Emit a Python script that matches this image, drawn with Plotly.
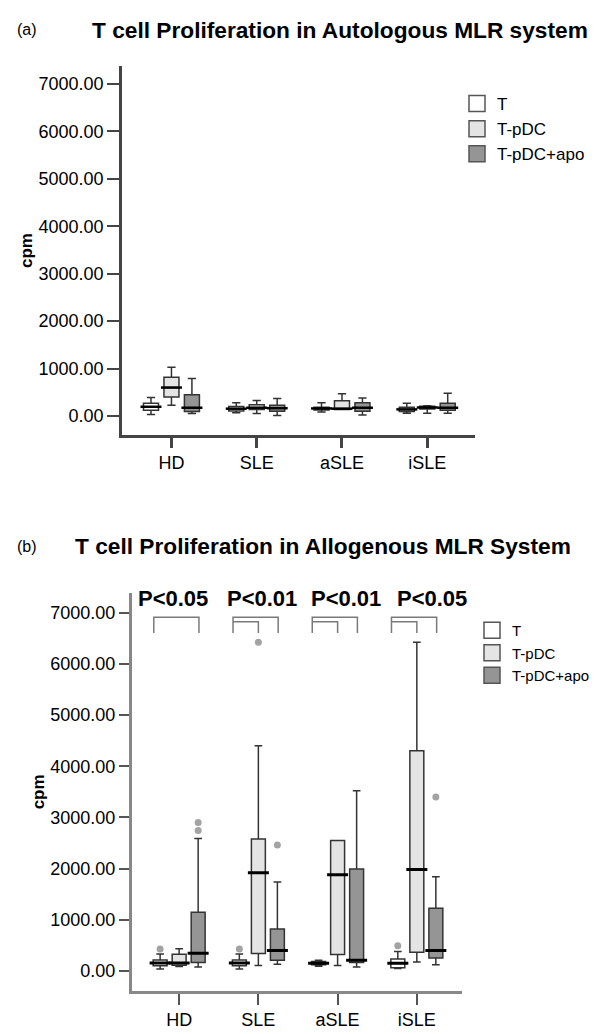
import plotly.graph_objects as go

GROUPS = ["HD", "SLE", "aSLE", "iSLE"]
SERIES = ["T", "T-pDC", "T-pDC+apo"]
Y_TICKS = [0, 1000, 2000, 3000, 4000, 5000, 6000, 7000]

# panel (a) - autologous MLR, box stats per series (HD, SLE, aSLE, iSLE)
a_lower = [[30, 70, 85, 60], [225, 55, 140, 60], [55, 10, 20, 60]]
a_q1 = [[120, 105, 125, 95], [400, 140, 140, 150], [95, 100, 100, 120]]
a_median = [[195, 155, 160, 140], [600, 175, 155, 180], [175, 165, 175, 175]]
a_q3 = [[270, 200, 185, 185], [820, 240, 320, 205], [450, 225, 280, 270]]
a_upper = [[390, 280, 280, 270], [1030, 330, 470, 215], [790, 370, 380, 480]]

# panel (b) - allogenous MLR
b_lower = [[40, 40, 95, 50], [90, 105, 105, 175], [80, 130, 80, 120]]
b_q1 = [[100, 100, 120, 65], [110, 340, 320, 365], [165, 210, 165, 255]]
b_median = [[155, 155, 150, 150], [155, 1920, 1880, 1980], [345, 400, 210, 400]]
b_q3 = [[215, 215, 185, 235], [325, 2580, 2550, 4300], [1145, 820, 1990, 1225]]
b_upper = [[330, 330, 210, 380], [435, 4400, 2550, 6420], [2590, 1740, 3520, 1840]]

# outliers: (group, value) per series
b_out_group = [["HD", "SLE", "iSLE"], ["SLE"], ["HD", "HD", "SLE", "iSLE"]]
b_out_value = [[430, 430, 495], [6420], [2900, 2745, 2460, 3400]]

# significance brackets (b)
p_labels = ["P<0.05", "P<0.01", "P<0.01", "P<0.05"]
p_label_x = [-0.08, 1.04, 2.11, 3.19]
p_inner = [False, True, True, True]

FILLS = ["#ffffff", "#e4e4e4", "#959595"]
OFFSETS = [-0.24, 0.0, 0.24]
FONT = "Liberation Sans, Arial, sans-serif"

# the page adds an 8px body margin, so the figure is drawn 8px smaller
W, H, PAD = 592, 1026, 8


def px(sx):
    return (sx - PAD) / W


def py(sy):
    return 1 - (sy - PAD) / H


fig = go.Figure()


def add_panel(xa, ya, lower, q1, med, q3, upper, legend, medw):
    for j, name in enumerate(SERIES):
        pos = [i + OFFSETS[j] for i in range(len(GROUPS))]
        fig.add_trace(go.Box(
            x=pos, q1=q1[j], median=med[j], q3=q3[j],
            lowerfence=lower[j], upperfence=upper[j],
            width=0.176, whiskerwidth=0.55, boxpoints=False,
            fillcolor=FILLS[j], line=dict(color="#333333", width=1.5),
            xaxis=xa, yaxis=ya, showlegend=False, hoverinfo="skip",
        ))
        fig.add_trace(go.Scatter(
            x=pos, y=med[j], mode="markers", xaxis=xa, yaxis=ya,
            marker=dict(symbol="line-ew", size=15, line=dict(color="black", width=medw)),
            showlegend=False, hoverinfo="skip",
        ))
        fig.add_trace(go.Scatter(
            x=[None], y=[None], mode="markers", name=name, legend=legend,
            xaxis=xa, yaxis=ya,
            marker=dict(symbol="square", size=16, color=FILLS[j],
                        line=dict(color="#555555", width=1.5)),
        ))


add_panel("x", "y", a_lower, a_q1, a_median, a_q3, a_upper, "legend", 2.5)
add_panel("x2", "y2", b_lower, b_q1, b_median, b_q3, b_upper, "legend2", 3)

for j in range(len(SERIES)):
    fig.add_trace(go.Scatter(
        x=[GROUPS.index(g) + OFFSETS[j] for g in b_out_group[j]], y=b_out_value[j],
        mode="markers", xaxis="x2", yaxis="y2", showlegend=False,
        marker=dict(color="#a3a3a3", size=7), hoverinfo="skip",
    ))

# brackets
top, inner_top, bottom = 6910, 6820, 6600
left, right = -0.32, 0.25
for i, has_inner in enumerate(p_inner):
    x0, x1 = i + left, i + right
    fig.add_shape(type="path", xref="x2", yref="y2",
                  path=f"M{x0},{bottom} L{x0},{top} L{x1},{top} L{x1},{bottom}",
                  line=dict(color="#7a7a7a", width=1.5))
    if has_inner:
        fig.add_shape(type="path", xref="x2", yref="y2",
                      path=f"M{x0},{inner_top} L{i},{inner_top} L{i},{bottom}",
                      line=dict(color="#7a7a7a", width=1.5))
    fig.add_annotation(x=p_label_x[i], y=7285, xref="x2", yref="y2",
                       text=f"<b>{p_labels[i]}</b>", showarrow=False,
                       font=dict(size=22, color="black", family=FONT),
                       xanchor="center", yanchor="middle")

titles = [("(a)", "T cell Proliferation in Autologous MLR system", 30, 92),
          ("(b)", "T cell Proliferation in Allogenous MLR System", 546, 75)]
for tag, text, ypx, xpx in titles:
    fig.add_annotation(x=px(15), y=py(ypx), xref="paper", yref="paper", text=tag,
                       showarrow=False, xanchor="left", yanchor="middle",
                       font=dict(size=16, color="black", family=FONT))
    fig.add_annotation(x=px(xpx - 2), y=py(ypx), xref="paper", yref="paper",
                       text=f"<b>{text}</b>", showarrow=False, xanchor="left",
                       yanchor="middle", font=dict(size=22.7, color="black", family=FONT))

axis_common = dict(showgrid=False, zeroline=False, showline=True, ticks="outside",
                   tickfont=dict(size=18, color="black", family=FONT))
cpm = dict(text="<b>cpm</b>", font=dict(size=17, color="black", family=FONT), standoff=2)

fig.update_layout(
    width=W, height=H, margin=dict(l=0, r=0, t=0, b=0),
    plot_bgcolor="white", paper_bgcolor="white",
    xaxis=dict(domain=[px(122), px(475)], range=[-0.58, 3.56], anchor="y",
               tickvals=list(range(4)), ticktext=GROUPS, linecolor="#444", linewidth=2.5,
               ticklen=10, tickwidth=2.5, tickcolor="#444", **axis_common),
    yaxis=dict(domain=[py(435), py(66)], range=[-400, 7380], anchor="x",
               tickvals=Y_TICKS, tickformat=".2f", linecolor="#444", linewidth=2.5,
               ticklen=12, tickwidth=2, tickcolor="#444", title=cpm, **axis_common),
    xaxis2=dict(domain=[px(132), px(462)], range=[-0.595, 3.57], anchor="y2",
                tickvals=list(range(4)), ticktext=GROUPS, linecolor="#888", linewidth=3,
                ticklen=11, tickwidth=1.5, tickcolor="#555", **axis_common),
    yaxis2=dict(domain=[py(990.7), py(593)], range=[-385, 7383], anchor="x2",
                tickvals=Y_TICKS, tickformat=".2f", linecolor="#888", linewidth=3,
                ticklen=10, tickwidth=1.5, tickcolor="#555", title=cpm, **axis_common),
    legend=dict(x=px(457), y=py(86), xanchor="left", yanchor="top",
                font=dict(size=17, color="black", family=FONT), bgcolor="rgba(0,0,0,0)"),
    legend2=dict(x=px(472), y=py(614), xanchor="left", yanchor="top",
                 font=dict(size=15, color="black", family=FONT), bgcolor="rgba(0,0,0,0)"),
)

fig.write_html("out.html")
